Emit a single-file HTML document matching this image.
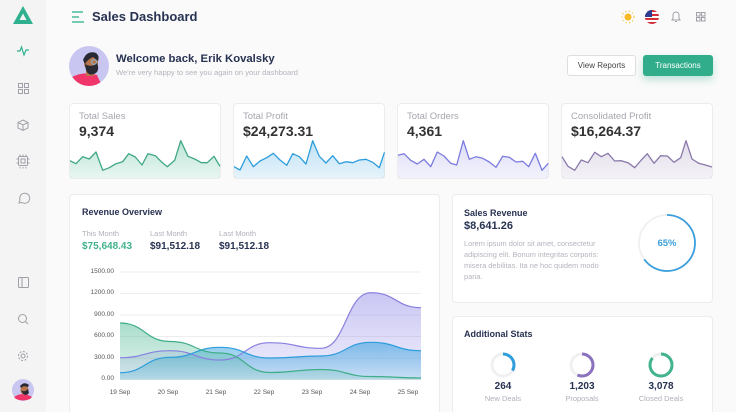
<!DOCTYPE html>
<html><head><meta charset="utf-8">
<style>
*{margin:0;padding:0;box-sizing:border-box}
html,body{width:736px;height:412px;overflow:hidden}
body{background:#fafafa;font-family:"Liberation Sans",sans-serif}
#w{position:relative;width:736px;height:412px;overflow:hidden;background:#fafafa}
.a{position:absolute;white-space:nowrap;line-height:1}
.side{position:absolute;left:0;top:0;width:46px;height:412px;background:#f4f4f4}
.card{position:absolute;background:#fff;border:1px solid #ececec;border-radius:4px}
.t{color:#a6a6b0;font-size:9.5px}
.v{color:#333;font-size:14px;font-weight:bold}
.h{color:#283252;font-size:9px;font-weight:bold}
.sm{color:#b0b0ba;font-size:7.5px}
.big{color:#283252;font-size:10px;font-weight:bold}
.ax{color:#555;font-size:6.5px}
</style></head><body><div id="w">
<div class="side"></div>
<!-- cards (backgrounds) -->
<div class="card" style="left:69px;top:103px;width:152px;height:76px"></div>
<div class="card" style="left:233px;top:103px;width:152px;height:76px"></div>
<div class="card" style="left:397px;top:103px;width:152px;height:76px"></div>
<div class="card" style="left:561px;top:103px;width:152px;height:76px"></div>
<div class="card" style="left:69px;top:194px;width:371px;height:230px"></div>
<div class="card" style="left:452px;top:194px;width:261px;height:109px"></div>
<div class="card" style="left:452px;top:316px;width:261px;height:110px"></div>

<svg class="a" style="left:0;top:0" width="736" height="412" viewBox="0 0 736 412">
<defs>
<linearGradient id="g1" x1="0" y1="0" x2="0" y2="1"><stop offset="0" stop-color="#41b38d" stop-opacity=".35"/><stop offset="1" stop-color="#41b38d" stop-opacity=".12"/></linearGradient>
<linearGradient id="g2" x1="0" y1="0" x2="0" y2="1"><stop offset="0" stop-color="#2d9ddc" stop-opacity=".3"/><stop offset="1" stop-color="#2d9ddc" stop-opacity=".12"/></linearGradient>
<linearGradient id="g3" x1="0" y1="0" x2="0" y2="1"><stop offset="0" stop-color="#7b7be0" stop-opacity=".25"/><stop offset="1" stop-color="#7b7be0" stop-opacity=".1"/></linearGradient>
<linearGradient id="g4" x1="0" y1="0" x2="0" y2="1"><stop offset="0" stop-color="#8a78ab" stop-opacity=".25"/><stop offset="1" stop-color="#8a78ab" stop-opacity=".1"/></linearGradient>
<linearGradient id="c1" x1="0" y1="0" x2="0" y2="1"><stop offset="0" stop-color="#41b38d" stop-opacity=".45"/><stop offset="1" stop-color="#41b38d" stop-opacity=".15"/></linearGradient>
<linearGradient id="c2" x1="0" y1="0" x2="0" y2="1"><stop offset="0" stop-color="#2d9ddc" stop-opacity=".55"/><stop offset="1" stop-color="#2d9ddc" stop-opacity=".2"/></linearGradient>
<linearGradient id="c3" x1="0" y1="0" x2="0" y2="1"><stop offset="0" stop-color="#8880e6" stop-opacity=".45"/><stop offset="1" stop-color="#8880e6" stop-opacity=".12"/></linearGradient>
</defs>
<!-- logo -->
<polygon points="13,24 23,6 33,24" fill="#2fb18f"/>
<polygon points="19.5,20 23,13.5 26.5,20" fill="#f4f4f4"/>
<!-- sidebar icons -->
<polyline points="17,51 20,51 21.5,47 24,55 26,50 29,50" fill="none" stroke="#2fb18f" stroke-width="1.2"/>
<g fill="none" stroke="#a0a0a8" stroke-width="1">
<rect x="18.5" y="83.5" width="4" height="4"/><rect x="24.5" y="83.5" width="4" height="4"/><rect x="18.5" y="89.5" width="4" height="4"/><rect x="24.5" y="89.5" width="4" height="4"/>
<path d="M23,120 L28,122.5 L28,128 L23,130.5 L18,128 L18,122.5 Z M18,122.5 L23,125 L28,122.5 M23,125 L23,130.5"/>
<rect x="18.5" y="156.5" width="9" height="9" rx="1"/><rect x="21" y="159" width="4" height="4"/>
<path d="M20,156 v-1.5 M23,156 v-1.5 M26,156 v-1.5 M20,167 v1.5 M23,167 v1.5 M26,167 v1.5 M18,159 h-1.5 M18,163 h-1.5 M28,159 h1.5 M28,163 h1.5"/>
<path d="M19,203 L20,200 A5,5 0 1 1 22,202.5 Z"/>
<rect x="18.5" y="277.5" width="10" height="10" rx="1"/><path d="M22,277.5 v10"/>
<circle cx="22.5" cy="318.5" r="4"/><path d="M25.5,321.5 l2.5,2.5"/>
<circle cx="23" cy="356" r="2"/><circle cx="23" cy="356" r="4.5" stroke-dasharray="2 1.5"/>
</g>
<!-- sidebar avatar -->
<g transform="translate(23,390)">
<circle r="11" fill="#c9c6f2"/>
<path d="M-9,7 Q0,1 9,7 L7,9 Q0,12 -7,9 Z" fill="#f0356a"/>
<ellipse cx="1.5" cy="0" rx="4" ry="5" fill="#b8744a"/>
<path d="M-2,0 Q1,8 6,3 L5,-1 Q1,3 -2,0Z" fill="#2a2a35"/>
<path d="M-3,-4 Q1,-9 6,-5 L5,-3 Q0,-5 -2,-2Z" fill="#2a2a35"/>
</g>
<!-- hamburger -->
<g stroke="#2fb18f" stroke-width="1.3"><line x1="72" y1="12" x2="83" y2="12"/><line x1="72" y1="17" x2="79" y2="17"/><line x1="72" y1="22" x2="84" y2="22"/></g>
<!-- header icons -->
<g transform="translate(628,17)"><circle r="3.5" fill="#f7b924"/><g stroke="#f7b924" stroke-width="1" stroke-dasharray="1.2 2.4"><circle r="6" fill="none"/></g></g>
<g transform="translate(652,17)">
<clipPath id="fl"><circle r="7"/></clipPath>
<g clip-path="url(#fl)"><rect x="-7" y="-7" width="14" height="14" fill="#fff"/>
<rect x="-7" y="-7" width="14" height="2" fill="#d22f3c"/><rect x="-7" y="-3" width="14" height="2" fill="#d22f3c"/><rect x="-7" y="1" width="14" height="2" fill="#d22f3c"/><rect x="-7" y="5" width="14" height="2" fill="#d22f3c"/>
<rect x="-7" y="-7" width="7" height="7" fill="#2e3d8f"/></g></g>
<g fill="none" stroke="#a0a0a8" stroke-width="1">
<path d="M672,20 L673,18.5 L673,15 A3,3 0 0 1 679,15 L679,18.5 L680,20 Z M675,21.5 h2"/>
<rect x="696.5" y="12.5" width="3.5" height="3.5"/><rect x="701.5" y="12.5" width="3.5" height="3.5"/><rect x="696.5" y="17.5" width="3.5" height="3.5"/><rect x="701.5" y="17.5" width="3.5" height="3.5"/>
</g>
<!-- welcome avatar -->
<g transform="translate(89,66)">
<circle r="20" fill="#c9c6f2"/>
<clipPath id="av"><circle r="20"/></clipPath>
<g clip-path="url(#av)">
<path d="M-20,20 L-17,11 Q-5,5 8,9 L13,20Z" fill="#f0356a"/>
<rect x="-3" y="2" width="8" height="8" fill="#b8744a"/>
<ellipse cx="2" cy="-3" rx="7" ry="8" fill="#b8744a"/>
<path d="M-4,-2 Q-3,11 5,8 Q10,6 9,0 L8,-3 Q3,2 -4,-2Z" fill="#2a2a35"/>
<path d="M-6,-6 Q-2,-16 7,-13 Q11,-10 9,-5 L4,-9 Q-1,-7 -4,-2Z" fill="#2a2a35"/>
<circle cx="5" cy="-4" r="2.4" fill="none" stroke="#7fbfd8" stroke-width="1"/>
</g></g>

<!-- sparklines -->
<path d="M70,160.7 L76,163.7 L82.7,156.7 L89.3,159 L96,152 L102.7,170.3 L109.3,167.7 L116,163.7 L122.7,161.7 L128.7,153.7 L135.3,157 L142,165 L148,153.7 L155.3,155.7 L161.3,161.7 L167.3,166.7 L174.7,160.3 L180.7,140.7 L188,156.3 L194.7,159 L201.3,162.7 L207.3,162.7 L214,156.3 L220,166.3 L220,178 L70,178Z" fill="url(#g1)"/>
<polyline points="70,160.7 76,163.7 82.7,156.7 89.3,159 96,152 102.7,170.3 109.3,167.7 116,163.7 122.7,161.7 128.7,153.7 135.3,157 142,165 148,153.7 155.3,155.7 161.3,161.7 167.3,166.7 174.7,160.3 180.7,140.7 188,156.3 194.7,159 201.3,162.7 207.3,162.7 214,156.3 220,166.3" fill="none" stroke="#3fa882" stroke-width="1.3" stroke-linejoin="round"/>
<path d="M234,166.7 L240,170 L246.7,156 L253.3,166.7 L260,161 L266.7,157.7 L273.3,153.3 L280,160 L286.7,165.3 L292.7,153.7 L299.3,156.7 L306,164 L312.7,140.7 L319.3,156.3 L326,163 L332.7,155.7 L339.3,163.7 L346,161.7 L352.7,162.7 L359.3,160 L366,159.3 L372.7,162.3 L379.3,167.7 L384.5,152.3 L384.5,178 L234,178Z" fill="url(#g2)"/>
<polyline points="234,166.7 240,170 246.7,156 253.3,166.7 260,161 266.7,157.7 273.3,153.3 280,160 286.7,165.3 292.7,153.7 299.3,156.7 306,164 312.7,140.7 319.3,156.3 326,163 332.7,155.7 339.3,163.7 346,161.7 352.7,162.7 359.3,160 366,159.3 372.7,162.3 379.3,167.7 384.5,152.3" fill="none" stroke="#2d9ddc" stroke-width="1.3" stroke-linejoin="round"/>
<path d="M398,155.3 L404,153.7 L410.7,160.3 L417.3,164 L424,159.3 L430.7,166.7 L437.3,152 L444,156 L450.7,163.3 L456.7,165 L463.3,140.7 L469.3,159.3 L476,156.7 L482.7,158.3 L489.3,162 L496,167.3 L502.7,156.3 L509.3,157.3 L516,162 L522.7,161.3 L528.7,166.7 L535.3,153.3 L542,170.3 L548.3,163.3 L548.3,178 L398,178Z" fill="url(#g3)"/>
<polyline points="398,155.3 404,153.7 410.7,160.3 417.3,164 424,159.3 430.7,166.7 437.3,152 444,156 450.7,163.3 456.7,165 463.3,140.7 469.3,159.3 476,156.7 482.7,158.3 489.3,162 496,167.3 502.7,156.3 509.3,157.3 516,162 522.7,161.3 528.7,166.7 535.3,153.3 542,170.3 548.3,163.3" fill="none" stroke="#7b7be0" stroke-width="1.3" stroke-linejoin="round"/>
<path d="M562,156.7 L568,166.3 L574.7,170.3 L581.3,160 L588,162.7 L594.7,152.3 L601.3,156.7 L608,153.3 L614.7,161 L621.3,160.7 L628,162.7 L634.7,167.7 L641.3,160 L647.3,153.7 L654,163.3 L660.7,155.7 L667.3,156 L674,162.3 L680.7,157.7 L686,140.7 L692,159 L698.7,163.3 L705.3,165 L712,167 L712,178 L562,178Z" fill="url(#g4)"/>
<polyline points="562,156.7 568,166.3 574.7,170.3 581.3,160 588,162.7 594.7,152.3 601.3,156.7 608,153.3 614.7,161 621.3,160.7 628,162.7 634.7,167.7 641.3,160 647.3,153.7 654,163.3 660.7,155.7 667.3,156 674,162.3 680.7,157.7 686,140.7 692,159 698.7,163.3 705.3,165 712,167" fill="none" stroke="#8a78ab" stroke-width="1.3" stroke-linejoin="round"/>

<!-- main chart -->
<g stroke="#ededed" stroke-width="1">
<line x1="120" y1="272" x2="421" y2="272"/><line x1="120" y1="293.5" x2="421" y2="293.5"/><line x1="120" y1="315" x2="421" y2="315"/><line x1="120" y1="336.5" x2="421" y2="336.5"/><line x1="120" y1="358" x2="421" y2="358"/><line x1="120" y1="379.5" x2="421" y2="379.5"/>
</g>
<path d="M120,357.7 C145,357.7 145,350.7 170,350.7 C195,350.7 195,360 220,360 C245,360 245,342.7 270,342.7 C295.5,342.7 295.5,348.3 321,348.3 C346,348.3 346,292.7 371,292.7 C396,292.7 396,307.7 421,307.7 L421,379.5 L120,379.5Z" fill="url(#c3)"/>
<path d="M120,372.7 C145,372.7 145,357.3 170,357.3 C195,357.3 195,347.3 220,347.3 C245,347.3 245,358 270,358 C295.5,358 295.5,356 321,356 C346,356 346,342.3 371,342.3 C396,342.3 396,350.7 421,350.7 L421,379.5 L120,379.5Z" fill="url(#c2)"/>
<path d="M120,323 C145,323 145,341.5 170,341.5 C195,341.5 195,353 220,353 C245,353 245,372.5 270,372.5 C295.5,372.5 295.5,369.5 321,369.5 C346,369.5 346,376.5 371,376.5 C396,376.5 396,378 421,378 L421,379.5 L120,379.5Z" fill="url(#c1)"/>
<path d="M120,357.7 C145,357.7 145,350.7 170,350.7 C195,350.7 195,360 220,360 C245,360 245,342.7 270,342.7 C295.5,342.7 295.5,348.3 321,348.3 C346,348.3 346,292.7 371,292.7 C396,292.7 396,307.7 421,307.7" fill="none" stroke="#8880e0" stroke-width="1.2"/>
<path d="M120,372.7 C145,372.7 145,357.3 170,357.3 C195,357.3 195,347.3 220,347.3 C245,347.3 245,358 270,358 C295.5,358 295.5,356 321,356 C346,356 346,342.3 371,342.3 C396,342.3 396,350.7 421,350.7" fill="none" stroke="#2d9ddc" stroke-width="1.2"/>
<path d="M120,323 C145,323 145,341.5 170,341.5 C195,341.5 195,353 220,353 C245,353 245,372.5 270,372.5 C295.5,372.5 295.5,369.5 321,369.5 C346,369.5 346,376.5 371,376.5 C396,376.5 396,378 421,378" fill="none" stroke="#3fae88" stroke-width="1.2"/>

<!-- donut -->
<circle cx="667" cy="243" r="28" fill="none" stroke="#f0f0f0" stroke-width="1.8"/>
<circle cx="667" cy="243" r="28" fill="none" stroke="#3a9fdd" stroke-width="1.8" stroke-dasharray="114.3 200" transform="rotate(-90 667 243)"/>
<!-- small rings -->
<circle cx="503" cy="365" r="11" fill="none" stroke="#f0f0f0" stroke-width="3"/>
<circle cx="503" cy="365" r="11" fill="none" stroke="#2d9ddc" stroke-width="3" stroke-dasharray="23 100" transform="rotate(-90 503 365)"/>
<circle cx="582" cy="365" r="11" fill="none" stroke="#f0f0f0" stroke-width="3"/>
<circle cx="582" cy="365" r="11" fill="none" stroke="#8a72bf" stroke-width="3" stroke-dasharray="39 100" transform="rotate(-90 582 365)"/>
<circle cx="661" cy="365" r="11" fill="none" stroke="#f0f0f0" stroke-width="3"/>
<circle cx="661" cy="365" r="11" fill="none" stroke="#41b38d" stroke-width="3" stroke-dasharray="59 100" transform="rotate(-90 661 365)"/>
</svg>

<!-- header text -->
<div class="a" style="left:92px;top:10px;font-size:13px;font-weight:bold;color:#283252">Sales Dashboard</div>
<div class="a" style="left:116px;top:54px;font-size:11.3px;font-weight:bold;color:#283252">Welcome back, Erik Kovalsky</div>
<div class="a" style="left:116px;top:69px;font-size:7.6px;color:#b4b4be">We're very happy to see you again on your dashboard</div>
<div class="a" style="left:567px;top:55px;width:69px;height:21px;border:1px solid #dedede;border-radius:3px;background:#fff;font-size:8px;color:#444;line-height:19px;text-align:center">View Reports</div>
<div class="a" style="left:643px;top:55px;width:70px;height:21px;border-radius:3px;background:#31ad8b;font-size:8px;color:#fff;line-height:21px;text-align:center;box-shadow:0 4px 8px rgba(49,173,139,.3)">Transactions</div>

<div class="a t" style="left:79px;top:111.5px">Total Sales</div>
<div class="a v" style="left:79px;top:124px">9,374</div>
<div class="a t" style="left:243px;top:111.5px">Total Profit</div>
<div class="a v" style="left:243px;top:124px">$24,273.31</div>
<div class="a t" style="left:407px;top:111.5px">Total Orders</div>
<div class="a v" style="left:407px;top:124px">4,361</div>
<div class="a t" style="left:571px;top:111.5px">Consolidated Profit</div>
<div class="a v" style="left:571px;top:124px">$16,264.37</div>

<div class="a h" style="left:82px;top:207.5px">Revenue Overview</div>
<div class="a sm" style="left:82px;top:230px">This Month</div>
<div class="a sm" style="left:150px;top:230px">Last Month</div>
<div class="a sm" style="left:219px;top:230px">Last Month</div>
<div class="a" style="left:82px;top:242px;font-size:10px;font-weight:bold;color:#41b38d">$75,648.43</div>
<div class="a big" style="left:150px;top:242px">$91,512.18</div>
<div class="a big" style="left:219px;top:242px">$91,512.18</div>

<div class="a ax" style="left:80px;width:34px;text-align:right;top:268.8px">1500.00</div>
<div class="a ax" style="left:80px;width:34px;text-align:right;top:290.3px">1200.00</div>
<div class="a ax" style="left:80px;width:34px;text-align:right;top:311.8px">900.00</div>
<div class="a ax" style="left:80px;width:34px;text-align:right;top:333.3px">600.00</div>
<div class="a ax" style="left:80px;width:34px;text-align:right;top:354.8px">300.00</div>
<div class="a ax" style="left:80px;width:34px;text-align:right;top:376.3px">0.00</div>
<div class="a ax" style="left:100px;width:40px;text-align:center;top:389.5px">19 Sep</div>
<div class="a ax" style="left:148px;width:40px;text-align:center;top:389.5px">20 Sep</div>
<div class="a ax" style="left:196px;width:40px;text-align:center;top:389.5px">21 Sep</div>
<div class="a ax" style="left:244px;width:40px;text-align:center;top:389.5px">22 Sep</div>
<div class="a ax" style="left:292px;width:40px;text-align:center;top:389.5px">23 Sep</div>
<div class="a ax" style="left:340px;width:40px;text-align:center;top:389.5px">24 Sep</div>
<div class="a ax" style="left:388px;width:40px;text-align:center;top:389.5px">25 Sep</div>

<div class="a h" style="left:464px;top:208.5px">Sales Revenue</div>
<div class="a" style="left:464px;top:220.5px;font-size:11px;font-weight:bold;color:#283252">$8,641.26</div>
<div class="a" style="left:464px;top:238px;font-size:7.4px;line-height:11px;color:#b4b4be;white-space:normal;width:155px">Lorem ipsum dolor sit amet, consectetur<br>adipiscing elit. Bonum integritas corporis:<br>misera debilitas. Ita ne hoc quidem modo<br>paria.</div>
<div class="a" style="left:647px;top:238.5px;width:40px;text-align:center;font-size:9.5px;font-weight:bold;color:#3a9fdd">65%</div>

<div class="a h" style="left:464px;top:329.5px">Additional Stats</div>
<div class="a big" style="left:473px;width:60px;text-align:center;top:382px">264</div>
<div class="a big" style="left:552px;width:60px;text-align:center;top:382px">1,203</div>
<div class="a big" style="left:631px;width:60px;text-align:center;top:382px">3,078</div>
<div class="a sm" style="left:463px;width:80px;text-align:center;top:395px">New Deals</div>
<div class="a sm" style="left:542px;width:80px;text-align:center;top:395px">Proposals</div>
<div class="a sm" style="left:621px;width:80px;text-align:center;top:395px">Closed Deals</div>
</div></body></html>
